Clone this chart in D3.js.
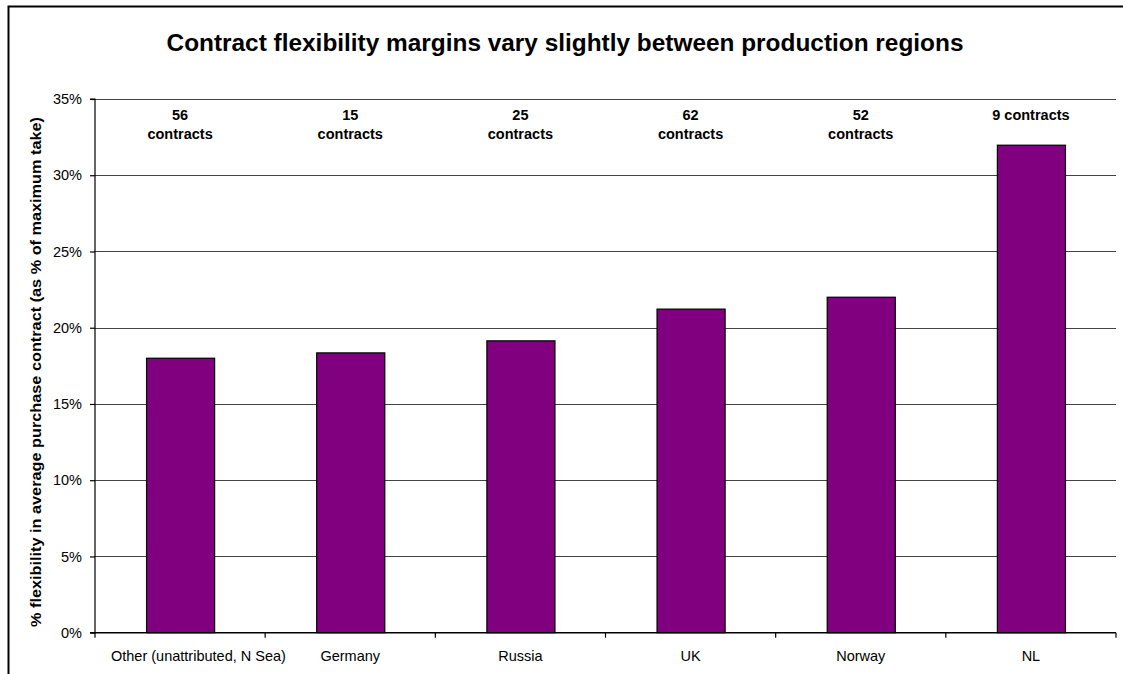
<!DOCTYPE html>
<html><head><meta charset="utf-8">
<script src="https://cdn.jsdelivr.net/npm/d3@7"></script>
<style>body{margin:0;background:#fff}svg{display:block}text{font-family:"Liberation Sans",Arial,sans-serif}</style>
</head><body>
<svg id="c" width="1123" height="674"></svg>
<script>
const categories = ["Other (unattributed, N Sea)", "Germany", "Russia", "UK", "Norway", "NL"];
const values = [0.180, 0.1835, 0.1914, 0.2122, 0.220, 0.3197];
const countLabels = [["56", "contracts"], ["15", "contracts"], ["25", "contracts"], ["62", "contracts"], ["52", "contracts"], ["9 contracts"]];
const yTicks = [0, 0.05, 0.10, 0.15, 0.20, 0.25, 0.30, 0.35];
const title = "Contract flexibility margins vary slightly between production regions";
const yTitle = "% flexibility in average purchase contract (as % of maximum take)";

const FONT = "'Liberation Sans', Arial, sans-serif";
const svg = d3.select("#c");
const m = {left: 95, right: 1116, top: 99, bottom: 632.7};

// frame
svg.append("path").attr("d", "M8.5,680V6.5H1130").attr("fill", "none").attr("stroke", "#000").attr("stroke-width", 2);

const x = d3.scaleBand().domain(categories).range([m.left, m.right]).paddingInner(0.6).paddingOuter(0.3);
const xb = d3.scaleBand().domain(categories).range([m.left, m.right]);
const y = d3.scaleLinear().domain([0, 0.35]).range([m.bottom, m.top]);

// gridlines
svg.append("g").selectAll("line").data(yTicks.slice(1)).join("line")
  .attr("x1", m.left).attr("x2", m.right)
  .attr("y1", d => Math.round(y(d)) + 0.5).attr("y2", d => Math.round(y(d)) + 0.5)
  .attr("stroke", "#444").attr("stroke-width", 1.2);

// bars
svg.append("g").selectAll("rect").data(values).join("rect")
  .attr("x", (d, i) => x(categories[i]) + 0.5)
  .attr("width", x.bandwidth())
  .attr("y", d => y(d))
  .attr("height", d => y(0) - y(d))
  .attr("fill", "#800080").attr("stroke", "#000").attr("stroke-width", 1.2);

// y axis
const yAxis = d3.axisLeft(y).tickValues(yTicks).tickFormat(d3.format(".0%")).tickSize(5).tickPadding(8);
const ga = svg.append("g").attr("transform", `translate(${m.left},0)`).call(yAxis);
ga.select(".domain").attr("stroke", "#000").attr("stroke-width", 1.2).attr("d", `M-5,${y(0.35)}H0V${y(0)}H-5`);
ga.selectAll(".tick line").attr("stroke", "#000").attr("stroke-width", 1.2);
ga.selectAll(".tick text").attr("font-size", 14.5).attr("fill", "#000").attr("font-family", FONT);

// x axis
const gx = svg.append("g").attr("transform", `translate(0,${m.bottom})`);
gx.append("line").attr("x1", m.left).attr("x2", m.right).attr("stroke", "#000").attr("stroke-width", 1.5);
gx.selectAll("line.t").data(d3.range(categories.length + 1)).join("line").attr("class", "t")
  .attr("x1", i => m.left + i * xb.step()).attr("x2", i => m.left + i * xb.step())
  .attr("y1", 0).attr("y2", 5).attr("stroke", "#000").attr("stroke-width", 1.2);
gx.selectAll("text").data(categories).join("text")
  .attr("x", d => xb(d) + xb.bandwidth() / 2).attr("y", 28)
  .attr("text-anchor", "middle").attr("font-size", 14.5).attr("fill", "#000").text(d => d)
  .each(function(d) {
    // keep labels clear of the left axis, as the original does
    const w = this.getComputedTextLength();
    const cx = xb(d) + xb.bandwidth() / 2;
    const minCx = m.left + 16 + w / 2;
    if (cx < minCx) d3.select(this).attr("x", minCx);
  });

// count labels
svg.append("g").selectAll("text").data(countLabels).join("text")
  .attr("text-anchor", "middle").attr("font-size", 14.5).attr("font-weight", "bold")
  .attr("x", (d, i) => xb(categories[i]) + xb.bandwidth() / 2)
  .attr("y", 120)
  .each(function(d) {
    d3.select(this).selectAll("tspan").data(d).join("tspan")
      .attr("x", d3.select(this).attr("x")).attr("dy", (t, j) => j === 0 ? 0 : 19).text(t => t);
  });

// title
svg.append("text").attr("x", 565).attr("y", 51).attr("text-anchor", "middle")
  .attr("font-size", 24.4).attr("font-weight", "bold").text(title);

// y title
svg.append("text").attr("transform", "translate(41,372) rotate(-90)").attr("text-anchor", "middle")
  .attr("font-size", 15).attr("font-weight", "bold")
  .attr("textLength", 510).attr("lengthAdjust", "spacingAndGlyphs").text(yTitle);
</script>
</body></html>
